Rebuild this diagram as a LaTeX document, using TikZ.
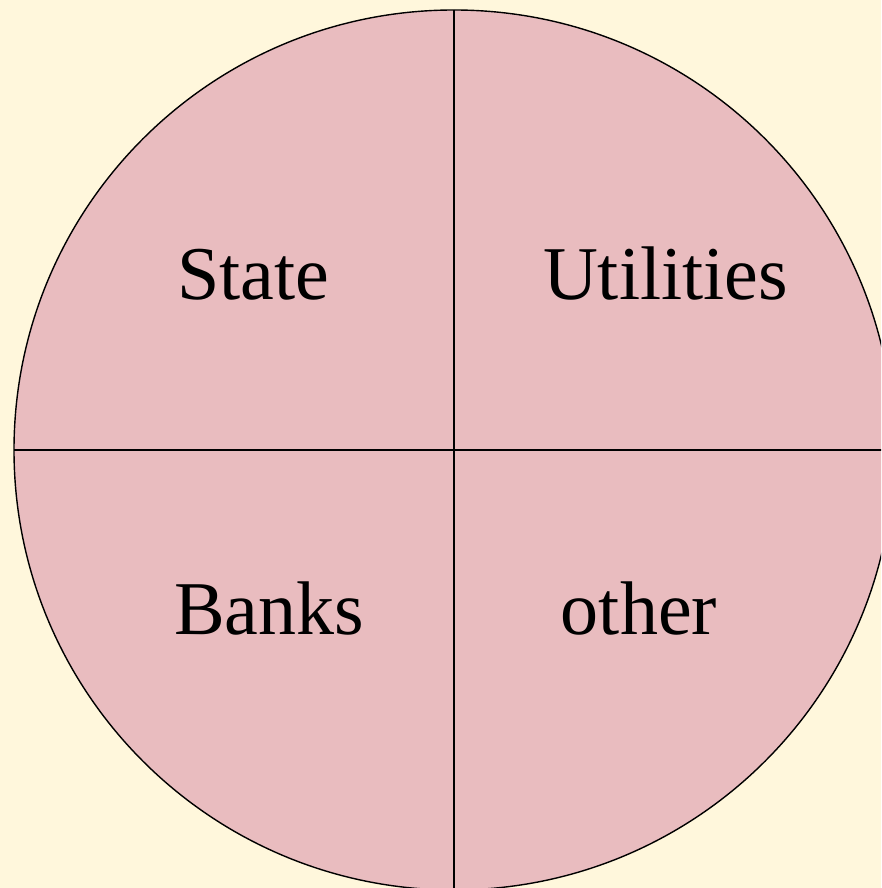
\documentclass[tikz,border=0pt]{standalone}
\usepackage{fontspec}
\setmainfont{Liberation Serif}
\definecolor{bgcream}{HTML}{FFF7DC}
\definecolor{piefill}{HTML}{E9BCBF}
\begin{document}
\begin{tikzpicture}[x=1pt,y=1pt,
  lbl/.style={font=\fontsize{76}{90}\selectfont, anchor=base, inner sep=0pt},
  divider/.style={draw=black, line width=1.3pt}]
\fill[bgcream] (0,0) rectangle (881,888);
\useasboundingbox (0,0) rectangle (881,888);
\begin{scope}
\clip (0,0) rectangle (881,888);
\coordinate (c) at (454,438);
\filldraw[fill=piefill, draw=black, line width=1.4pt] (c) circle[radius=440];
\coordinate (top) at (454,878);
\coordinate (bot) at (454,-2);
\coordinate (lft) at (14,438);
\coordinate (rgt) at (894,438);
\draw[divider] (top) -- (bot);
\draw[divider] (lft) -- (rgt);
\end{scope}
\node[lbl] (state) at (253.5,588) {State};
\node[lbl] (util) at (665.5,588) {Utilities};
\node[lbl] (banks) at (269,253) {Banks};
\node[lbl] (other) at (639,253) {other};
\end{tikzpicture}
\end{document}
